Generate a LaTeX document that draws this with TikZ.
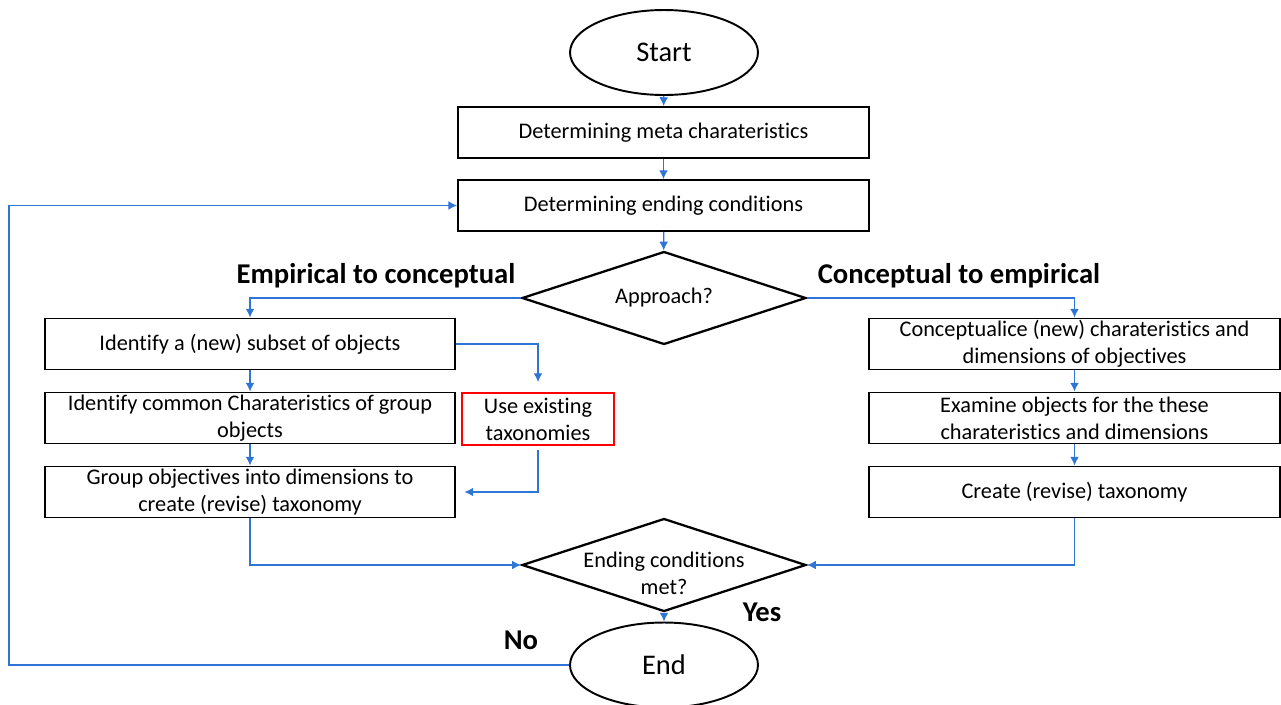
\documentclass[tikz,border=0pt]{standalone}
\usepackage{fontspec}
\setmainfont{Carlito}[Ligatures={NoCommon}]
\usetikzlibrary{shapes.geometric,arrows.meta}
\definecolor{flowblue}{RGB}{46,117,214}
\tikzset{
  box/.style={draw, line width=1.1pt, minimum width=8.22cm, minimum height=1.02cm,
    inner sep=0pt, align=center, font=\fontsize{12.7}{15.4}\selectfont},
  terminal/.style={draw, ellipse, line width=1.1pt, minimum width=3.76cm,
    minimum height=1.7cm, inner sep=0pt, font=\fontsize{16.2}{19}\selectfont},
  decision/.style={draw, diamond, line width=1.3pt, minimum width=5.68cm,
    minimum height=1.86cm, inner sep=0pt},
  head/.style={font=\fontsize{16.3}{19}\selectfont\bfseries},
  conn/.style={draw=flowblue, line width=0.7pt, -{Latex[length=5pt,width=5pt]}}
}
\begin{document}
\begin{tikzpicture}[x=0.02cm,y=-0.02cm]
\useasboundingbox (0,0) rectangle (1281,704);
% main column
\node[terminal] (start) at (664,52.5) {Start};
\node[box] (meta) at (663.5,132.5) {Determining meta charateristics};
\node[box] (cond) at (663.5,205.5) {Determining ending conditions};
\node[decision] (appr) at (664,298) {};
\node[font=\fontsize{12.7}{15.4}\selectfont] (apprtxt) at (appr) {Approach?};
\node[head] (emp) at (376,276) {Empirical to conceptual};
\node[head] (con) at (959,276) {Conceptual to empirical};
% empirical branch
\node[box] (l1) at (250,344) {Identify a (new) subset of objects};
\node[box] (l2) at (250,418) {Identify common Charateristics of group\\objects};
\node[box] (l3) at (250,492) {Group objectives into dimensions to\\create (revise) taxonomy};
\node[box, draw=red, minimum width=3.04cm, minimum height=1.04cm] (use) at (538,419) {Use existing\\taxonomies};
% conceptual branch
\node[box] (r1) at (1074.5,344) {Conceptualice (new) charateristics and\\dimensions of objectives};
\node[box] (r2) at (1074.5,418) {Examine objects for the these\\charateristics and dimensions};
\node[box] (r3) at (1074.5,492) {Create (revise) taxonomy};
% ending
\node[decision] (meet) at (664,565) {};
\node[font=\fontsize{12.7}{15.4}\selectfont, align=center] (meettxt) at (664,573) {Ending conditions\\met?};
\node[terminal] (end) at (664,665) {End};
\node[head] (yes) at (762,612) {Yes};
\node[head] (no) at (521,640) {No};
\coordinate (loop) at (9,665);
% connectors
\draw[conn] (start) -- (meta);
\draw[conn] (meta) -- (cond);
\draw[conn] (cond) -- (appr);
\draw[conn] (appr.west) -| (l1.north);
\draw[conn] (appr.east) -| (r1.north);
\draw[conn] (l1) -- (l2);
\draw[conn] (l2) -- (l3);
\draw[conn, shorten >=0.2cm] (l1.east) -| (use.north);
\draw[conn, shorten <=0.08cm, shorten >=0.16cm] (use.south) |- (l3.east);
\draw[conn] (r1) -- (r2);
\draw[conn] (r2) -- (r3);
\draw[conn] (l3.south) |- (meet.west);
\draw[conn] (r3.south) |- (meet.east);
\draw[conn] (meet) -- (end);
\draw[conn] (end.west) -- (loop) |- (cond.west);
\end{tikzpicture}
\end{document}
